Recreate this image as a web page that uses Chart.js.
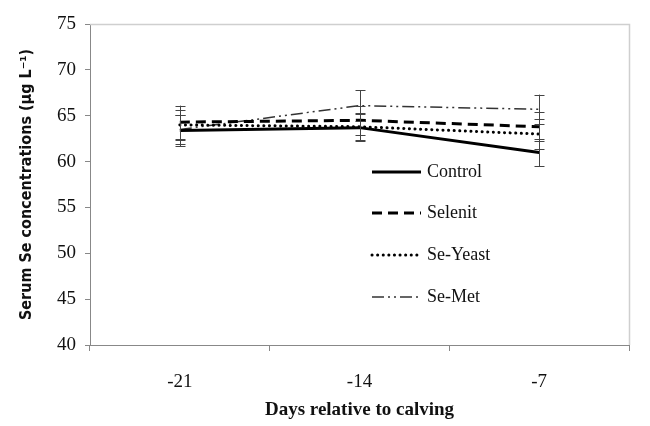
<!DOCTYPE html>
<html><head><meta charset="utf-8">
<script src="https://cdn.jsdelivr.net/npm/chart.js@4"></script>
<style>html,body{margin:0;padding:0;background:#fff}#wrap{width:650px;height:426px}</style>
</head><body><div id="wrap"><canvas id="c" width="650" height="426"></canvas></div>
<script>
const days = ['-21', '-14', '-7'];
const seriesNames = ['Control', 'Selenit', 'Se-Yeast', 'Se-Met'];
const control = [63.4, 63.7, 61.0];
const selenit = [64.3, 64.5, 63.8];
const seYeast = [64.0, 63.8, 63.0];
const seMet = [63.5, 66.1, 65.7];
const controlErr = [1.7, 1.5, 1.5];
const selenitErr = [1.8, 1.6, 1.6];
const seYeastErr = [1.6, 1.5, 1.6];
const seMetErr = [1.6, 1.7, 1.6];
const yMin = 40, yMax = 75, yStep = 5;

const styles = [
  {color:'#000', width:3, dash:[], cap:'butt'},
  {color:'#000', width:3, dash:[10,6], cap:'butt'},
  {color:'#000', width:3, dash:[0.1,5.5], cap:'round'},
  {color:'#333', width:1.5, dash:[12,4,2,4,2,4], cap:'butt'}
];
const values = [control, selenit, seYeast, seMet];
const errs = [controlErr, selenitErr, seYeastErr, seMetErr];

const datasets = seriesNames.map((n,i)=>({
  label:n, data:values[i], borderColor:styles[i].color, borderWidth:styles[i].width,
  borderDash:styles[i].dash, borderCapStyle:styles[i].cap, pointRadius:0, tension:0, fill:false,
  errors: errs[i]
}));

const errorBars = {
  id:'errorBars',
  afterDatasetsDraw(chart){
    const {ctx, scales:{x,y}} = chart;
    ctx.save();
    ctx.strokeStyle='#444'; ctx.lineWidth=1; ctx.setLineDash([]);
    chart.data.datasets.forEach(ds=>{
      ds.data.forEach((v,j)=>{
        const px = Math.round(x.getPixelForValue(j))+0.5;
        const t = y.getPixelForValue(v+ds.errors[j]);
        const b = y.getPixelForValue(v-ds.errors[j]);
        ctx.beginPath();
        ctx.moveTo(px,t); ctx.lineTo(px,b);
        ctx.moveTo(px-5,Math.round(t)+0.5); ctx.lineTo(px+5,Math.round(t)+0.5);
        ctx.moveTo(px-5,Math.round(b)+0.5); ctx.lineTo(px+5,Math.round(b)+0.5);
        ctx.stroke();
      });
    });
    ctx.restore();
  }
};

const frame = {
  id:'frame',
  beforeDatasetsDraw(chart){
    const {ctx, chartArea:a} = chart;
    ctx.save();
    ctx.strokeStyle='#cfcfcf'; ctx.lineWidth=1.5;
    ctx.beginPath();
    ctx.moveTo(a.left, a.top+0.5); ctx.lineTo(a.right+0.5, a.top+0.5); ctx.lineTo(a.right+0.5, a.bottom);
    ctx.stroke();
    ctx.restore();
  }
};

const legendBox = {
  id:'legendBox',
  afterDraw(chart){
    const {ctx} = chart;
    ctx.save();
    const x0 = 372, x1 = 421, tx = 427;
    const rows = [172, 213, 255, 297];
    chart.data.datasets.forEach((ds,i)=>{
      const yy = rows[i];
      ctx.strokeStyle = ds.borderColor; ctx.lineWidth = ds.borderWidth;
      ctx.setLineDash(ds.borderDash); ctx.lineCap = ds.borderCapStyle;
      ctx.beginPath(); ctx.moveTo(x0,yy); ctx.lineTo(x1,yy); ctx.stroke();
      ctx.setLineDash([]);
      ctx.fillStyle='#111'; ctx.font='18px "Liberation Serif", "Times New Roman", serif';
      ctx.textBaseline='middle'; ctx.textAlign='left';
      ctx.fillText(ds.label, tx, yy);
    });
    ctx.restore();
  }
};

new Chart(document.getElementById('c'), {
  type:'line',
  data:{labels:days, datasets},
  plugins:[frame, errorBars, legendBox],
  options:{
    responsive:false, animation:false, devicePixelRatio:1,
    layout:{padding:{top:24, right:21, left:0, bottom:0}},
    plugins:{legend:{display:false}, tooltip:{enabled:false}},
    scales:{
      x:{
        offset:true,
        afterFit(s){ s.height = 81; },
        grid:{display:true, drawOnChartArea:false, offset:true, tickLength:6, color:'#888'},
        border:{color:'#888', width:1},
        ticks:{padding:20, color:'#111', font:{family:'"Liberation Serif", "Times New Roman", serif', size:19}},
        title:{display:true, text:'Days relative to calving', color:'#111',
          font:{family:'"Liberation Serif", "Times New Roman", serif', size:19, weight:'bold'},
          padding:{top:0, bottom:5}}
      },
      y:{
        min:yMin, max:yMax,
        afterFit(s){ s.width = 90; },
        grid:{display:true, drawOnChartArea:false, tickLength:5, color:'#888'},
        border:{color:'#888', width:1},
        ticks:{stepSize:yStep, padding:9, color:'#111', font:{family:'"Liberation Serif", "Times New Roman", serif', size:19}},
        title:{display:true, text:'Serum Se concentrations (\u03bcg L\u207b\u00b9)', color:'#111',
          font:{family:'"Liberation Sans Narrow", "DejaVu Sans Condensed", Arial, sans-serif', size:16, weight:'bold'},
          padding:{top:17, bottom:0}}
      }
    }
  }
});
</script></body></html>
